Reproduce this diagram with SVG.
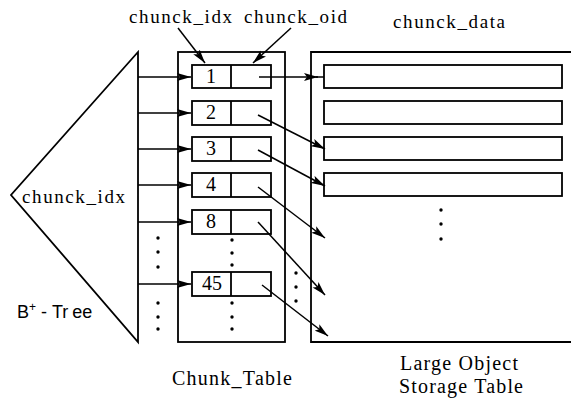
<svg xmlns="http://www.w3.org/2000/svg" width="571" height="399" viewBox="0 0 571 399">
<style>
.ln{fill:none;stroke:#000;stroke-width:1.8}
.bx{fill:#fff;stroke:#000;stroke-width:1.8}
.ar{fill:none;stroke:#000;stroke-width:1.5;marker-end:url(#ah)}
.t{font-family:"Liberation Serif","Times New Roman",serif;font-size:19px;fill:#000}
.n{font-family:"Liberation Serif","Times New Roman",serif;font-size:20px;fill:#000;text-anchor:middle}
.s{font-family:"Liberation Sans",Arial,sans-serif;font-size:18px;fill:#000}
.d{fill:#000}
</style>
<defs>
<marker id="ah" markerUnits="userSpaceOnUse" markerWidth="15" markerHeight="9" refX="14" refY="4.5" orient="auto">
<path d="M0,0.5 L14,4.5 L0,8.5 L3,4.5 z" fill="#000"/>
</marker>
</defs>
<g id="btree">
<path class="ln" d="M138,52 L11,195 L138,342 Z"/>
<text class="t" x="22" y="203" textLength="103" lengthAdjust="spacing">chunck_idx</text>
<text class="s" x="17" y="318">B<tspan font-size="12" dy="-7">+</tspan><tspan dy="7" dx="5">-</tspan><tspan dx="5">Tr</tspan><tspan dx="4">ee</tspan></text>
<circle class="d" cx="158" cy="238" r="1.7"/>
<circle class="d" cx="158" cy="252" r="1.7"/>
<circle class="d" cx="158" cy="267" r="1.7"/>
<circle class="d" cx="158" cy="303" r="1.7"/>
<circle class="d" cx="158" cy="317" r="1.7"/>
<circle class="d" cx="158" cy="329" r="1.7"/>
</g>
<g id="chunk_table">
<rect class="ln" x="178" y="52" width="107" height="290"/>
<rect class="bx" x="192" y="65" width="79" height="23"/><line class="ln" x1="231" y1="65" x2="231" y2="88"/>
<rect class="bx" x="192" y="101" width="79" height="24"/><line class="ln" x1="231" y1="101" x2="231" y2="125"/>
<rect class="bx" x="192" y="137" width="79" height="24"/><line class="ln" x1="231" y1="137" x2="231" y2="161"/>
<rect class="bx" x="192" y="173" width="79" height="24"/><line class="ln" x1="231" y1="173" x2="231" y2="197"/>
<rect class="bx" x="192" y="210" width="79" height="24"/><line class="ln" x1="231" y1="210" x2="231" y2="234"/>
<rect class="bx" x="192" y="272" width="79" height="24"/><line class="ln" x1="231" y1="272" x2="231" y2="296"/>
<text class="n" x="211" y="83">1</text>
<text class="n" x="211" y="119">2</text>
<text class="n" x="211" y="155">3</text>
<text class="n" x="211" y="191">4</text>
<text class="n" x="211" y="228">8</text>
<text class="n" x="212" y="290">45</text>
<circle class="d" cx="232" cy="240" r="1.7"/>
<circle class="d" cx="232" cy="253" r="1.7"/>
<circle class="d" cx="232" cy="265" r="1.7"/>
<circle class="d" cx="232" cy="303" r="1.7"/>
<circle class="d" cx="232" cy="317" r="1.7"/>
<circle class="d" cx="232" cy="329" r="1.7"/>
<text class="t" x="172" y="385" textLength="120" lengthAdjust="spacing" style="font-size:20px">Chunk_Table</text>
</g>
<g id="storage_table">
<path class="ln" d="M571,52 L311,52 L311,342 L571,342"/>
<rect class="bx" x="324" y="65" width="238" height="23"/>
<rect class="bx" x="324" y="101" width="238" height="23"/>
<rect class="bx" x="324" y="137" width="238" height="23"/>
<rect class="bx" x="324" y="173" width="238" height="23"/>
<circle class="d" cx="441" cy="210" r="1.7"/>
<circle class="d" cx="441" cy="224" r="1.7"/>
<circle class="d" cx="441" cy="239" r="1.7"/>
<text class="t" x="400" y="370" textLength="118" lengthAdjust="spacing" style="font-size:20px">Large Object</text>
<text class="t" x="399" y="393" textLength="124" lengthAdjust="spacing" style="font-size:20px">Storage Table</text>
</g>
<g id="between_dots">
<circle class="d" cx="296" cy="273" r="1.7"/>
<circle class="d" cx="296" cy="287" r="1.7"/>
<circle class="d" cx="296" cy="301" r="1.7"/>
</g>
<g id="labels">
<text class="t" x="129" y="23" textLength="103" lengthAdjust="spacing">chunck_idx</text>
<text class="t" x="244" y="23" textLength="103" lengthAdjust="spacing">chunck_oid</text>
<text class="t" x="393" y="28" textLength="112" lengthAdjust="spacing">chunck_data</text>
</g>
<g id="connectors">
<line class="ar" x1="178" y1="28" x2="205" y2="63"/>
<line class="ar" x1="291" y1="28" x2="253" y2="63"/>
<line class="ar" x1="138" y1="77" x2="191" y2="77"/>
<line class="ar" x1="138" y1="113" x2="191" y2="113"/>
<line class="ar" x1="138" y1="149" x2="191" y2="149"/>
<line class="ar" x1="138" y1="185" x2="191" y2="185"/>
<line class="ar" x1="138" y1="222" x2="191" y2="222"/>
<line class="ar" x1="138" y1="284" x2="191" y2="284"/>
<line class="ar" x1="259" y1="77" x2="318" y2="77"/>
<line class="ln" x1="316" y1="77" x2="324" y2="77" style="stroke-width:1.5"/>
<line class="ar" x1="258" y1="115" x2="325" y2="149"/>
<line class="ar" x1="258" y1="150" x2="325" y2="186"/>
<line class="ar" x1="258" y1="187" x2="325" y2="238"/>
<line class="ar" x1="258" y1="222" x2="325" y2="295"/>
<line class="ar" x1="262" y1="285" x2="328" y2="336"/>
</g>
</svg>
